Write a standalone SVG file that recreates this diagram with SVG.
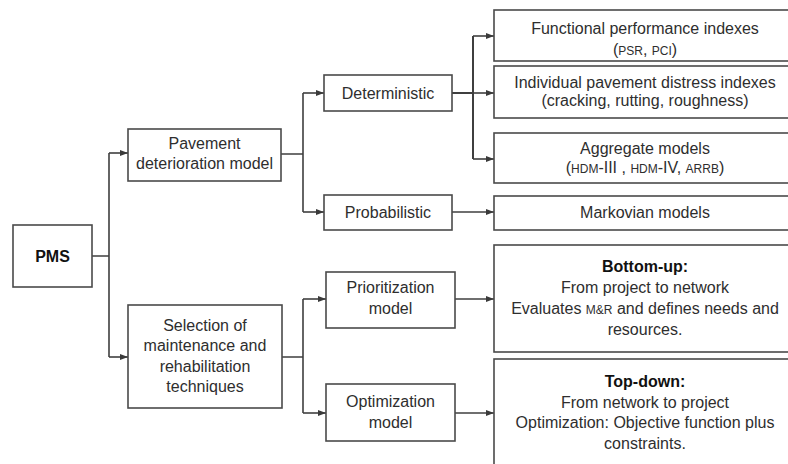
<svg xmlns="http://www.w3.org/2000/svg" width="788" height="464" viewBox="0 0 788 464">
<defs>
<marker id="arr" viewBox="0 0 8 8" refX="8" refY="4" markerWidth="8" markerHeight="8" markerUnits="userSpaceOnUse" orient="auto">
<path d="M0,1 L8,4 L0,7 Z" fill="#3a3a3a"/>
</marker>
<style>
.box{fill:#fff;stroke:#4a4a4a;stroke-width:1.6}
.t{font-family:"Liberation Sans",Arial,Helvetica,sans-serif;font-size:16px;fill:#2e2e2e;text-anchor:middle}
.b{font-weight:bold;fill:#111}
.sc{font-size:12px}
.ln{fill:none;stroke:#3f3f3f;stroke-width:1.6}
.ar{marker-end:url(#arr)}
</style>
</defs>
<rect width="788" height="464" fill="#fff"/>
<g id="connectors">
<path class="ln" d="M92,256 H109 M109,153 V357"/>
<path class="ln ar" d="M109,153 H128"/>
<path class="ln ar" d="M109,357 H128"/>
<path class="ln" d="M281,154 H303 M303,93 V212"/>
<path class="ln ar" d="M303,93 H324"/>
<path class="ln ar" d="M303,212 H324"/>
<path class="ln" d="M452,93 H473 M473,36 V159" style="stroke-width:2"/>
<path class="ln ar" d="M473,36 H494"/>
<path class="ln ar" d="M473,93 H494"/>
<path class="ln ar" d="M473,159 H494"/>
<path class="ln ar" d="M452,212 H494"/>
<path class="ln" d="M282,357 H303 M303,299 V413"/>
<path class="ln ar" d="M303,299 H326"/>
<path class="ln ar" d="M303,413 H326"/>
<path class="ln ar" d="M455,299 H494"/>
<path class="ln ar" d="M455,413 H494"/>
</g>
<g id="pms">
<rect class="box" x="13" y="225" width="79" height="62"/>
<text class="t b" x="52.5" y="262">PMS</text>
</g>
<g id="pavement">
<rect class="box" x="128" y="129" width="153" height="52"/>
<text class="t" x="204.5" y="149">Pavement</text>
<text class="t" x="204.5" y="169">deterioration model</text>
</g>
<g id="selection">
<rect class="box" x="128" y="305" width="154" height="103"/>
<text class="t" x="205" y="331">Selection of</text>
<text class="t" x="205" y="351">maintenance and</text>
<text class="t" x="205" y="372">rehabilitation</text>
<text class="t" x="205" y="392">techniques</text>
</g>
<g id="deterministic">
<rect class="box" x="324" y="75" width="128" height="36"/>
<text class="t" x="388" y="99">Deterministic</text>
</g>
<g id="probabilistic">
<rect class="box" x="324" y="195" width="128" height="35"/>
<text class="t" x="388" y="218">Probabilistic</text>
</g>
<g id="prioritization">
<rect class="box" x="326" y="272" width="129" height="56"/>
<text class="t" x="390.5" y="293">Prioritization</text>
<text class="t" x="390.5" y="314">model</text>
</g>
<g id="optimization">
<rect class="box" x="326" y="384" width="129" height="57"/>
<text class="t" x="390.5" y="407">Optimization</text>
<text class="t" x="390.5" y="428">model</text>
</g>
<g id="functional">
<rect class="box" x="494" y="10" width="302" height="51"/>
<text class="t" x="645" y="34">Functional performance indexes</text>
<text class="t" x="645" y="55">(<tspan class="sc">PSR</tspan>, <tspan class="sc">PCI</tspan>)</text>
</g>
<g id="individual">
<rect class="box" x="494" y="66" width="302" height="52"/>
<text class="t" x="645" y="88">Individual pavement distress indexes</text>
<text class="t" x="645" y="106">(cracking, rutting, roughness)</text>
</g>
<g id="aggregate">
<rect class="box" x="494" y="133" width="302" height="50"/>
<text class="t" x="645" y="154">Aggregate models</text>
<text class="t" x="645" y="173">(<tspan class="sc">HDM</tspan>-III , <tspan class="sc">HDM</tspan>-IV, <tspan class="sc">ARRB</tspan>)</text>
</g>
<g id="markovian">
<rect class="box" x="494" y="196" width="302" height="34"/>
<text class="t" x="645" y="218">Markovian models</text>
</g>
<g id="bottomup">
<rect class="box" x="494" y="245" width="302" height="107"/>
<text class="t b" x="645" y="272">Bottom-up:</text>
<text class="t" x="645" y="293">From project to network</text>
<text class="t" x="645" y="314">Evaluates <tspan class="sc">M&amp;R</tspan> and defines needs and</text>
<text class="t" x="645" y="335">resources.</text>
</g>
<g id="topdown">
<rect class="box" x="494" y="359" width="302" height="110"/>
<text class="t b" x="645" y="387">Top-down:</text>
<text class="t" x="645" y="408">From network to project</text>
<text class="t" x="645" y="428">Optimization: Objective function plus</text>
<text class="t" x="645" y="449">constraints.</text>
</g>
</svg>
